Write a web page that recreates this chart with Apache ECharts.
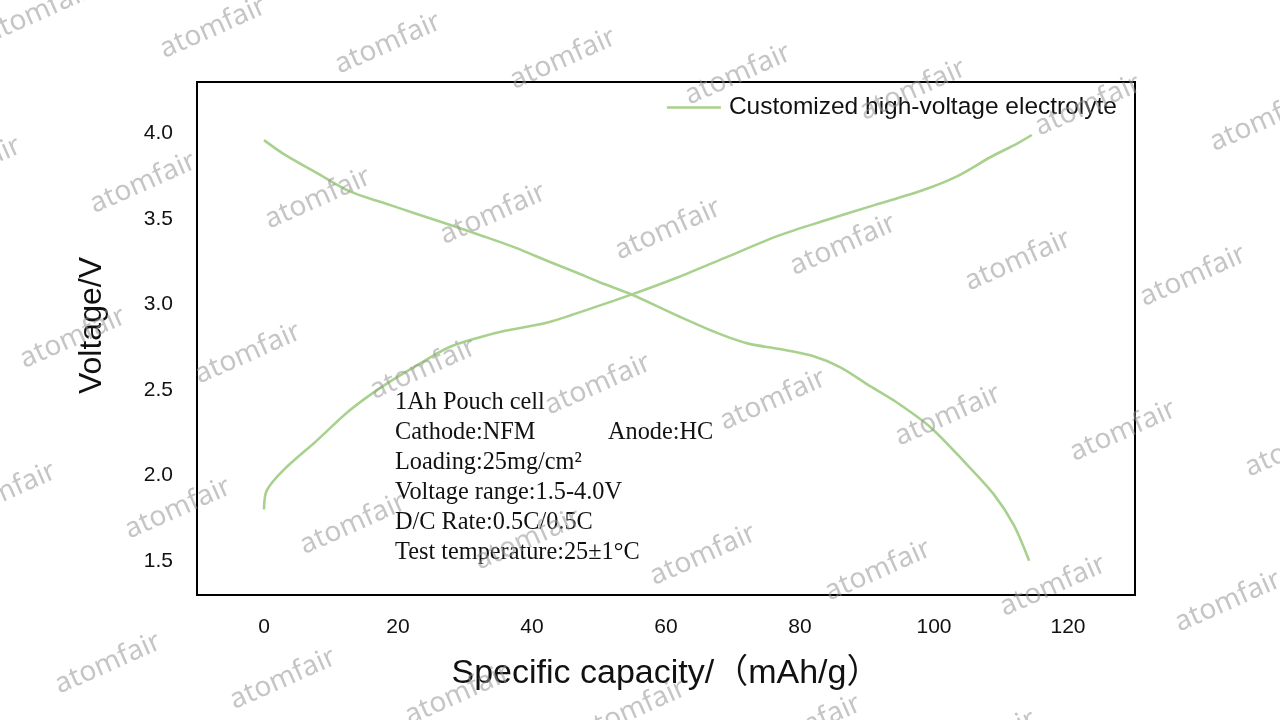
<!DOCTYPE html>
<html>
<head>
<meta charset="utf-8">
<script src="https://cdn.jsdelivr.net/npm/echarts@6/dist/echarts.min.js"></script>
<style>html,body{margin:0;padding:0;background:#fff;}#c{width:1280px;height:720px;}</style>
</head>
<body>
<div id="c"></div>
<script>
// ---- data ----
const seriesName = 'Customized high-voltage electrolyte';
const chargeCapacity = [0, 0.4, 2.9, 7.8, 12.8, 17.7, 22.7, 27.7, 32.5, 36, 42, 49.5, 54.7, 61.9, 69.3, 76.7, 83.7, 91.1, 98.5, 103.5, 108.4, 112.4, 114.6];
const chargeVoltage  = [1.80, 1.91, 2.03, 2.20, 2.38, 2.52, 2.64, 2.75, 2.81, 2.845, 2.89, 2.985, 3.055, 3.16, 3.28, 3.40, 3.49, 3.58, 3.67, 3.75, 3.86, 3.94, 3.99];
const dischargeCapacity = [0, 2.9, 7.8, 12.8, 17.7, 22.7, 27.7, 32.6, 37.6, 42.5, 47, 50, 54.7, 61.9, 67.8, 72.3, 76.7, 81.7, 86.1, 90.1, 94.3, 99.5, 104.5, 108.9, 111.9, 114.2];
const dischargeVoltage  = [3.96, 3.88, 3.77, 3.66, 3.595, 3.53, 3.465, 3.40, 3.33, 3.25, 3.18, 3.13, 3.06, 2.93, 2.83, 2.77, 2.74, 2.70, 2.63, 2.53, 2.43, 2.28, 2.08, 1.89, 1.71, 1.50];
const xTickLabels = ['0', '20', '40', '60', '80', '100', '120'];
const yTickLabels = ['1.5', '2.0', '2.5', '3.0', '3.5', '4.0'];
const noteLines = ['1Ah Pouch cell', 'Cathode:NFM', 'Loading:25mg/cm²', 'Voltage range:1.5-4.0V', 'D/C Rate:0.5C/0.5C', 'Test temperature:25±1°C'];
const noteExtra = 'Anode:HC';
const watermarkText = 'atomfair';

const zip = (xs, ys) => xs.map((x, i) => [x, ys[i]]);
const lineColor = '#A9D18E';
const noteFont = '24.3px "Liberation Serif", "Times New Roman", serif';

// ---- graphics: annotation + watermarks ----
const graphics = [];
noteLines.forEach((t, i) => {
  graphics.push({type: 'text', left: 395, top: 391 + i * 30, z: 50,
    style: {text: t, font: noteFont, fill: '#111'}});
});
graphics.push({type: 'text', left: 608, top: 421, z: 50,
  style: {text: noteExtra, font: noteFont, fill: '#111'}});

for (let r = -1; r < 6; r++) {
  for (let c = -1; c < 9; c++) {
    const cx = 213 + c * 175 - r * 70;
    const cy = 28 + c * 15.5 + r * 155;
    if (cx < -80 || cx > 1360 || cy < -40 || cy > 760) continue;
    graphics.push({type: 'text', x: cx, y: cy, rotation: 24 * Math.PI / 180, z: 200, silent: true,
      style: {text: watermarkText, font: '28px "Noto Sans", "Open Sans", sans-serif',
        fill: 'rgba(150,150,150,0.55)', align: 'center', verticalAlign: 'middle'}});
  }
}

const chart = echarts.init(document.getElementById('c'));
chart.setOption({
  backgroundColor: '#fff',
  animation: false,
  grid: {left: 197, right: 145, top: 82, bottom: 125, show: true, borderColor: '#000', borderWidth: 2, backgroundColor: 'transparent'},
  legend: {
    data: [{name: seriesName, icon: 'path://M0,0L54,0L54,2.6L0,2.6Z'}],
    right: 158, top: 90, itemWidth: 54, itemHeight: 2.6, itemGap: 10,
    textStyle: {fontFamily: '"Liberation Sans", Arial, sans-serif', fontSize: 24.5, color: '#111', padding: [0, 0, 0, 3]}
  },
  xAxis: {
    type: 'value', min: -10, max: 130, interval: 10,
    name: 'Specific capacity/（mAh/g）', nameLocation: 'middle', nameGap: 62,
    nameTextStyle: {fontFamily: '"Liberation Sans", Arial, "Noto Sans CJK SC", sans-serif', fontSize: 34, color: '#111'},
    axisLine: {show: false}, axisTick: {show: false}, splitLine: {show: false},
    axisLabel: {
      margin: 22, fontFamily: '"Liberation Sans", Arial, sans-serif', fontSize: 21, color: '#111',
      formatter: v => { const s = String(Math.round(v)); return xTickLabels.includes(s) ? s : ''; }
    }
  },
  yAxis: {
    type: 'value', min: 1.3, max: 4.3, interval: 0.1,
    name: 'Voltage/V', nameLocation: 'middle', nameGap: 89,
    nameTextStyle: {fontFamily: '"Liberation Sans", Arial, sans-serif', fontSize: 32, color: '#111', padding: [0, 0, 0, 26]},
    axisLine: {show: false}, axisTick: {show: false}, splitLine: {show: false},
    axisLabel: {
      margin: 24, fontFamily: '"Liberation Sans", Arial, sans-serif', fontSize: 21, color: '#111',
      formatter: v => { const s = v.toFixed(1); return yTickLabels.includes(s) ? s : ''; }
    }
  },
  series: [
    {name: seriesName, type: 'line', data: zip(chargeCapacity, chargeVoltage), symbol: 'none', smooth: 0.3,
      lineStyle: {color: lineColor, width: 2.6}, itemStyle: {color: lineColor}},
    {name: seriesName, type: 'line', data: zip(dischargeCapacity, dischargeVoltage), symbol: 'none', smooth: 0.3,
      lineStyle: {color: lineColor, width: 2.6}, itemStyle: {color: lineColor}}
  ],
  graphic: graphics
});
</script>
</body>
</html>
